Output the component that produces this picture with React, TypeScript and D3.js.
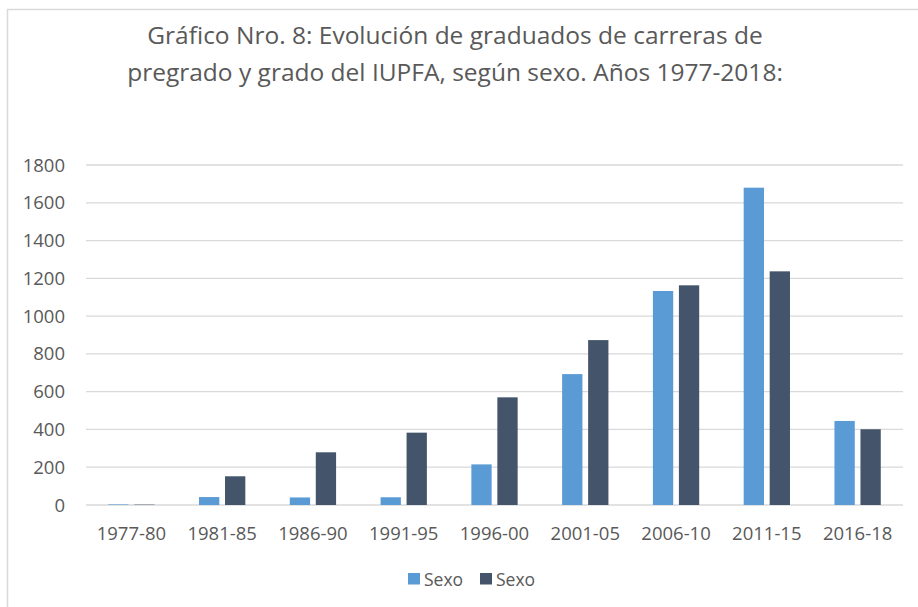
import React from "react";
import * as d3 from "d3";

const categories = ["1977-80", "1981-85", "1986-90", "1991-95", "1996-00", "2001-05", "2006-10", "2011-15", "2016-18"];
const series1 = [3, 42, 40, 41, 215, 693, 1133, 1680, 445];
const series2 = [2, 152, 279, 383, 570, 873, 1163, 1237, 401];
const seriesNames = ["Sexo", "Sexo"];
const yTicks = [0, 200, 400, 600, 800, 1000, 1200, 1400, 1600, 1800];
const titleLines = [
  "Gráfico Nro. 8: Evolución de graduados de carreras de",
  "pregrado y grado del IUPFA, según sexo. Años 1977-2018:",
];

const colors = ["#5B9BD5", "#44546A"];
const FONT = "'Open Sans', 'Noto Sans', sans-serif";
const TEXT = "#595959";

export default function App() {
  const W = 918, H = 607;
  const left = 86, right = 903, top = 165, bottom = 505;
  const x = d3.scaleBand<string>().domain(categories).range([left, right]).paddingInner(0).paddingOuter(0);
  const y = d3.scaleLinear().domain([0, 1800]).range([bottom, top]);
  const bw = 20.3, gap = 5.7;
  const all = [series1, series2];
  return (
    <svg width={W} height={H} style={{ position: "absolute", left: 0, top: 0 }} fontFamily={FONT}>
      <rect x={0} y={0} width={W} height={H} fill="#fff" />
      <path d={`M7.5,${H + 5} V9.5 H${W + 5}`} fill="none" stroke="#d9d9d9" strokeWidth={1.5} />
      {titleLines.map((t, i) => (
        <text key={i} x={455} y={44 + i * 37} textAnchor="middle" fontSize={24.5} fill={TEXT}>{t}</text>
      ))}
      {yTicks.map((t) => (
        <g key={t}>
          <line x1={left} x2={right} y1={y(t)} y2={y(t)} stroke="#d9d9d9" strokeWidth={1.3} />
          <text x={65} y={y(t) + 6.5} textAnchor="end" fontSize={18.5} fill={TEXT}>{t}</text>
        </g>
      ))}
      {categories.map((c, i) => {
        const cx = (x(c) as number) + x.bandwidth() / 2;
        return (
          <g key={c}>
            {all.map((s, k) => {
              const bx = k === 0 ? cx - gap / 2 - bw : cx + gap / 2;
              return (
                <rect key={k} x={bx} y={y(s[i])} width={bw} height={bottom - y(s[i])} fill={colors[k]} />
              );
            })}
            <text x={cx} y={540} textAnchor="middle" fontSize={18.5} fill={TEXT}>{c}</text>
          </g>
        );
      })}
      {seriesNames.map((n, k) => {
        const lx = 408 + k * 72;
        return (
          <g key={k}>
            <rect x={lx} y={573} width={12} height={11.5} fill={colors[k]} />
            <text x={lx + 16} y={585.5} fontSize={17.5} fill={TEXT}>{n}</text>
          </g>
        );
      })}
    </svg>
  );
}
